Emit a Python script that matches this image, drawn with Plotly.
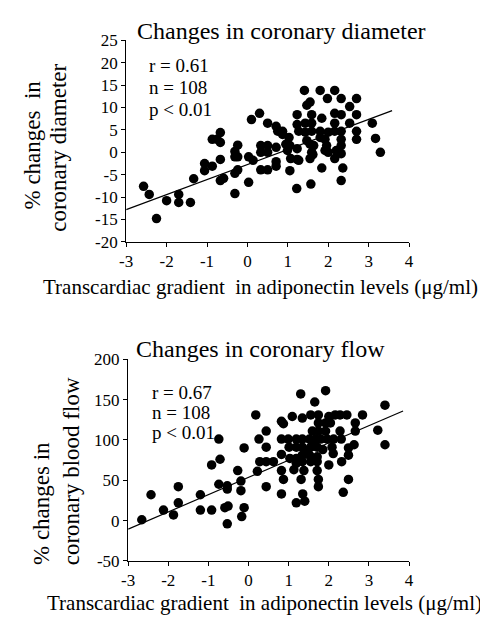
import plotly.graph_objects as go

# ---------------- Data: top panel (coronary diameter) ----------------
diam_x = [-2.57, -2.43, -2.25, -2.0, -1.70, -1.70, -1.41, -1.33, -1.06, -1.06,
          -0.87, -0.87, -0.75, -0.67, -0.67, -0.67, -0.67, -0.59, -0.31, -0.31,
          -0.24, -0.24, -0.31, -0.24, -0.31, 0.03, 0.03, 0.10, 0.14, 0.30,
          0.33, 0.33, 0.33, 0.50, 0.50, 0.50, 0.50, 0.71, 0.71, 0.71,
          0.71, 0.75, 0.87, 0.95, 0.99, 1.03, 1.05, 1.05, 1.07, 1.23,
          1.23, 1.23, 1.23, 1.22, 1.27, 1.27, 1.41, 1.43, 1.43, 1.47,
          1.55, 1.55, 1.59, 1.59, 1.59, 1.59, 1.55, 1.57, 1.64, 1.62,
          1.80, 1.84, 1.80, 1.80, 1.84, 1.92, 1.92, 1.96, 1.98, 2.00,
          2.16, 2.16, 2.16, 2.16, 2.16, 2.20, 2.32, 2.32, 2.32, 2.32,
          2.32, 2.32, 2.36, 2.32, 2.53, 2.53, 2.70, 2.70, 2.70, 2.70,
          3.09, 3.17, 3.29, 1.47, 2.00, 0.87]
diam_y = [-7.6, -9.4, -14.8, -10.8, -9.4, -11.2, -11.2, -5.9, -2.5, -4.1,
          -3.1, 2.9, 2.9, 4.4, 2.2, -1.6, -6.3, -5.8, 0.2, -1.0,
          1.6, -1.0, -4.7, -3.9, -9.2, -1.0, -6.7, 7.3, -1.8, 8.7,
          1.5, 0.0, -3.9, 6.5, 1.5, 0.0, -3.9, 5.8, 1.1, -2.1,
          -3.1, 4.7, 4.7, 1.8, 0.4, 3.3, 1.5, -4.1, -1.4, 8.4,
          6.2, 0.8, -1.6, -8.1, -1.8, 4.7, 13.8, 6.5, 4.5, 2.6,
          11.2, 1.8, 8.4, 6.5, 4.7, 0.0, -1.4, -7.1, 1.5, -0.5,
          13.8, 7.6, 4.7, 3.3, -3.5, 2.9, 0.4, 1.5, 12.0, 4.5,
          13.8, 8.7, 6.5, 4.7, -1.4, 0.4, 12.0, 8.4, 4.7, 2.9,
          1.5, -0.3, -3.5, -6.3, 10.2, 6.5, 12.0, 8.4, 4.7, 2.9,
          6.5, 3.1, 0.0, 10.5, 0.0, 4.0]
diam_fit = [3.36, -2.72]          # slope, intercept of regression line
diam_fit_range = [-3.0, 3.58]
diam_stats = ["r = 0.61", "n = 108", "p < 0.01"]

# ---------------- Data: bottom panel (coronary flow) ----------------
flow_x = [-2.66, -2.43, -2.12, -1.87, -1.75, -1.75, -1.20, -1.20, -0.92, -0.92,
          -0.74, -0.71, -0.74, -0.59, -0.53, -0.53, -0.51, -0.53, -0.27, -0.19,
          -0.19, -0.11, -0.11, -0.17, 0.18, 0.22, 0.26, 0.28, 0.44, 0.44,
          0.44, 0.44, 0.62, 0.82, 0.87, 0.82, 0.82, 0.82, 0.87, 0.82,
          0.99, 1.01, 1.03, 1.09, 1.13, 1.19, 1.19, 1.19, 1.19, 1.19,
          1.30, 1.34, 1.34, 1.34, 1.34, 1.34, 1.31, 1.35, 1.38, 1.40,
          1.52, 1.55, 1.52, 1.55, 1.55, 1.59, 1.65, 1.67, 1.71, 1.71,
          1.71, 1.71, 1.74, 1.74, 1.74, 1.74, 1.74, 1.80, 1.92, 1.92,
          1.92, 1.96, 2.00, 2.00, 2.04, 2.08, 2.11, 2.12, 2.16, 2.28,
          2.28, 2.31, 2.32, 2.36, 2.45, 2.49, 2.49, 2.49, 2.63, 2.66,
          2.66, 2.84, 3.22, 3.40, 3.40, 1.45, 1.60, 1.85]
flow_y = [1, 32, 13, 7, 42, 22, 32, 13, 69, 13,
          101, 76, 45, 16, 43, 39, 18, -4, 62, 49,
          37, 90, 16, 5, 131, 61, 101, 73, 111, 91,
          73, 42, 73, 123, 120, 101, 82, 62, 51, 33,
          101, 91, 77, 129, 63, 101, 91, 77, 71, 22,
          157, 127, 101, 91, 81, 73, 51, 33, 62, 24,
          101, 91, 81, 73, 131, 111, 147, 101, 91, 79,
          73, 62, 131, 121, 111, 51, 42, 101, 161, 121,
          111, 101, 129, 69, 121, 91, 83, 101, 131, 131,
          111, 101, 73, 35, 131, 90, 81, 51, 94, 121,
          111, 131, 112, 143, 94, 86, 96, 88]
flow_fit = [21.4, 53.5]
flow_fit_range = [-3.0, 3.85]
flow_stats = ["r = 0.67", "n = 108", "p < 0.01"]

# ---------------- Axis labels ----------------
x_ticks = [-3, -2, -1, 0, 1, 2, 3, 4]
x_ticktext = ["-3", "-2", "-1", "0", "1", "2", "3", "4"]
diam_yticks = [-20, -15, -10, -5, 0, 5, 10, 15, 20, 25]
diam_yticktext = ["-20", "-15", "-10", "-5", "0", "5", "10", "15", "20", "25"]
flow_yticks = [-50, 0, 50, 100, 150, 200]
flow_yticktext = ["-50", "0", "50", "100", "150", "200"]

FONT = "Liberation Serif, Times New Roman, serif"
W, H = 488, 623
OFF = 8  # page body margin offset compensation

def px_x(p):
    return (p - OFF) / W

def px_y(p):
    return 1 - (p - OFF) / H

fig = go.Figure()

marker = dict(color="black", size=9.5, line=dict(width=0))

fig.add_trace(go.Scatter(x=diam_x, y=diam_y, mode="markers", marker=marker,
                         xaxis="x", yaxis="y", showlegend=False))
fig.add_trace(go.Scatter(x=diam_fit_range,
                         y=[diam_fit[0] * v + diam_fit[1] for v in diam_fit_range],
                         mode="lines", line=dict(color="black", width=1.2),
                         xaxis="x", yaxis="y", showlegend=False))
fig.add_trace(go.Scatter(x=flow_x, y=flow_y, mode="markers", marker=marker,
                         xaxis="x2", yaxis="y2", showlegend=False))
fig.add_trace(go.Scatter(x=flow_fit_range,
                         y=[flow_fit[0] * v + flow_fit[1] for v in flow_fit_range],
                         mode="lines", line=dict(color="black", width=1.2),
                         xaxis="x2", yaxis="y2", showlegend=False))

axis_common = dict(showgrid=False, zeroline=False, showline=True, linecolor="black",
                   linewidth=1.3, ticks="outside", ticklen=4, tickwidth=1.3,
                   tickcolor="black", tickfont=dict(family=FONT, size=17, color="black"))

fig.update_layout(
    width=W, height=H,
    margin=dict(l=0, r=0, t=0, b=0),
    paper_bgcolor="white", plot_bgcolor="white",
    xaxis=dict(domain=[px_x(122), px_x(412)], anchor="y", range=[-3, 4],
               tickvals=x_ticks, ticktext=x_ticktext, **axis_common),
    yaxis=dict(domain=[px_y(240), px_y(32)], anchor="x", range=[-20, 25],
               tickvals=diam_yticks, ticktext=diam_yticktext, **axis_common),
    xaxis2=dict(domain=[px_x(124), px_x(412)], anchor="y2", range=[-3, 4],
                tickvals=x_ticks, ticktext=x_ticktext, **axis_common),
    yaxis2=dict(domain=[px_y(569), px_y(361)], anchor="x2", range=[-50, 200],
                tickvals=flow_yticks, ticktext=flow_yticktext, **axis_common),
)

def ann(text, x, y, size, angle=0, xanchor="center", yanchor="middle"):
    fig.add_annotation(text=text, x=px_x(x), y=px_y(y), xref="paper", yref="paper",
                       showarrow=False, textangle=angle, xanchor=xanchor,
                       yanchor=yanchor, font=dict(family=FONT, size=size, color="black"))

# Titles
ann("Changes in coronary diameter", 281, 22, 24)
ann("Changes in coronary flow", 260, 350, 24)

# X axis titles
ann("Transcardiac gradient  in adiponectin levels (μg/ml)", 260, 287, 21)
ann("Transcardiac gradient  in adiponectin levels (μg/ml)", 264, 612, 21)

# Y axis titles
ann("% changes  in", 26, 140, 23, angle=-90)
ann("coronary diameter", 53, 143, 23, angle=-90)
ann("% changes in", 35, 510, 23, angle=-90)
ann("coronary blood flow", 66, 477, 23, angle=-90)

# Stats text
for i, t in enumerate(diam_stats):
    ann(t, 143, 58 + i * 22.5, 19, xanchor="left")
for i, t in enumerate(flow_stats):
    ann(t, 146, 395 + i * 21, 19, xanchor="left")

fig.write_html("out.html")
